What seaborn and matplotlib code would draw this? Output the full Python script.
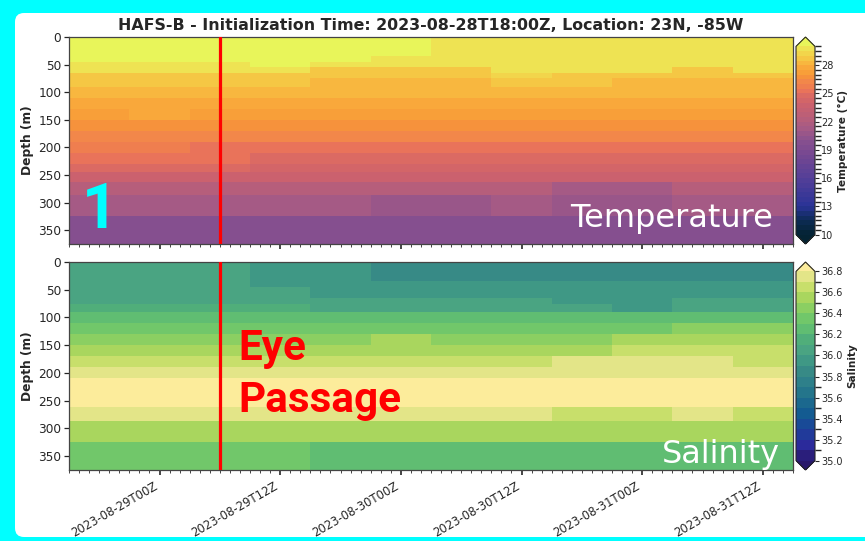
import numpy as np
import pandas as pd
import matplotlib
matplotlib.use("Agg")
import matplotlib.pyplot as plt
import matplotlib.dates as mdates
from matplotlib.colors import LinearSegmentedColormap, ListedColormap, BoundaryNorm
from matplotlib.patches import FancyBboxPatch
from matplotlib.transforms import IdentityTransform
import seaborn as sns

sns.set_theme(style="ticks")
plt.rcParams["font.family"] = ["DejaVu Sans"]

# ---------------------------------------------------------------- data
title = "HAFS-B - Initialization Time: 2023-08-28T18:00Z, Location: 23N, -85W"
valid_times = pd.date_range("2023-08-28 18:00", periods=12, freq="6h")
eye_passage_time = pd.Timestamp("2023-08-29 06:00")

# layer edges of the ocean profile (m)
depth_edges = [0, 35, 45, 55, 65, 75, 90, 110, 130, 150, 170, 190,
               210, 230, 245, 262, 287, 325, 375]

# temperature (deg C): one row per layer, one column per valid time
temperature = [
    [30.2, 30.2, 30.2, 30.2, 30.2, 30.2, 29.7, 29.7, 29.7, 29.7, 29.7, 29.7],
    [30.2, 30.2, 30.2, 30.2, 30.2, 29.7, 29.7, 29.7, 29.7, 29.7, 29.7, 29.7],
    [29.7, 29.7, 29.7, 30.2, 29.7, 29.7, 29.7, 29.7, 29.7, 29.7, 29.7, 29.7],
    [29.7, 29.7, 29.7, 29.7, 28.9, 28.9, 28.9, 29.7, 29.7, 29.7, 28.9, 29.7],
    [28.9, 28.9, 28.9, 28.9, 28.9, 28.9, 28.9, 29.3, 28.9, 28.9, 28.9, 28.9],
    [28.9, 28.9, 28.9, 28.9, 28.3, 28.3, 28.3, 28.9, 28.9, 28.3, 28.3, 28.3],
    [28.3, 28.3, 28.3, 28.3, 28.3, 28.3, 28.3, 28.3, 28.3, 28.3, 28.3, 28.3],
    [27.8, 27.8, 27.8, 27.8, 27.8, 27.8, 27.8, 27.8, 27.8, 27.8, 27.8, 27.8],
    [27.3, 27.8, 27.3, 27.3, 27.3, 27.3, 27.3, 27.3, 27.3, 27.3, 27.3, 27.3],
    [26.8, 26.8, 26.8, 26.8, 26.8, 26.8, 26.8, 26.8, 26.8, 26.8, 26.8, 26.8],
    [26.3, 26.3, 26.3, 26.3, 26.3, 26.3, 26.3, 26.3, 26.3, 26.3, 26.3, 26.3],
    [25.8, 25.8, 25.3, 25.3, 25.3, 25.3, 25.3, 25.3, 25.3, 25.3, 25.3, 25.3],
    [25.3, 25.3, 25.3, 24.8, 24.8, 24.8, 24.8, 24.8, 24.8, 24.8, 24.8, 24.8],
    [24.8, 24.8, 24.8, 24.3, 24.3, 24.3, 24.3, 24.3, 24.3, 24.3, 24.3, 24.3],
    [23.8, 23.8, 23.8, 23.8, 23.8, 23.8, 23.8, 23.8, 23.8, 23.8, 23.8, 23.8],
    [22.3, 22.3, 22.3, 22.3, 22.3, 22.3, 22.3, 22.3, 21.3, 21.3, 22.3, 22.3],
    [21.3, 21.3, 21.3, 21.3, 21.3, 20.8, 20.8, 21.3, 20.8, 20.8, 21.3, 21.3],
    [19.8, 19.8, 19.8, 19.8, 19.8, 19.8, 19.8, 19.8, 19.8, 19.8, 19.8, 19.8],
]

# salinity (psu): one row per layer, one column per valid time
salinity = [
    [36.05, 36.05, 36.05, 35.95, 35.95, 35.85, 35.85, 35.85, 35.85, 35.85, 35.85, 35.85],
    [36.05, 36.05, 36.05, 35.95, 35.95, 35.95, 35.95, 35.95, 35.95, 35.95, 35.95, 35.95],
    [36.05, 36.05, 36.05, 36.05, 35.95, 35.95, 35.95, 35.95, 35.95, 35.95, 35.95, 35.95],
    [36.05, 36.05, 36.05, 36.05, 35.95, 35.95, 35.95, 35.95, 35.95, 35.95, 35.95, 35.95],
    [36.05, 36.05, 36.05, 36.05, 36.05, 36.05, 36.05, 36.05, 35.95, 35.95, 36.05, 36.05],
    [36.15, 36.15, 36.15, 36.15, 36.05, 36.05, 36.05, 36.05, 36.05, 35.95, 36.05, 36.05],
    [36.25, 36.25, 36.25, 36.25, 36.25, 36.25, 36.25, 36.25, 36.25, 36.25, 36.25, 36.25],
    [36.35, 36.35, 36.35, 36.35, 36.35, 36.35, 36.35, 36.35, 36.35, 36.35, 36.45, 36.45],
    [36.45, 36.45, 36.45, 36.45, 36.45, 36.55, 36.45, 36.45, 36.45, 36.55, 36.55, 36.55],
    [36.55, 36.55, 36.55, 36.55, 36.55, 36.55, 36.55, 36.55, 36.55, 36.65, 36.65, 36.65],
    [36.65, 36.65, 36.65, 36.65, 36.65, 36.65, 36.65, 36.65, 36.75, 36.75, 36.75, 36.65],
    [36.75, 36.75, 36.75, 36.75, 36.75, 36.75, 36.75, 36.75, 36.75, 36.75, 36.75, 36.75],
    [36.85, 36.85, 36.85, 36.85, 36.85, 36.85, 36.85, 36.85, 36.85, 36.85, 36.85, 36.85],
    [36.85, 36.85, 36.85, 36.85, 36.85, 36.85, 36.85, 36.85, 36.85, 36.85, 36.85, 36.85],
    [36.85, 36.85, 36.85, 36.85, 36.85, 36.85, 36.85, 36.85, 36.85, 36.85, 36.85, 36.85],
    [36.75, 36.75, 36.75, 36.75, 36.75, 36.75, 36.75, 36.75, 36.65, 36.65, 36.75, 36.65],
    [36.55, 36.55, 36.55, 36.55, 36.55, 36.55, 36.55, 36.55, 36.55, 36.55, 36.55, 36.55],
    [36.35, 36.35, 36.35, 36.35, 36.25, 36.25, 36.25, 36.25, 36.25, 36.25, 36.25, 36.25],
]

temp_levels = np.round(np.arange(10.0, 30.001, 0.5), 2)
salt_levels = np.round(np.arange(35.0, 36.801, 0.1), 2)
temp_ticks = np.arange(10, 29, 3)
salt_ticks = np.round(np.arange(35.0, 36.801, 0.2), 2)

# ---------------------------------------------------------------- colour maps
thermal_anchors = [
    (10.0, "#042333"), (11.5, "#0c2b55"), (13.0, "#2a3397"), (16.0, "#543f98"),
    (19.0, "#7c4a90"), (20.0, "#88518f"), (21.3, "#a55a85"), (22.3, "#b75e7a"),
    (23.8, "#cb616e"), (24.8, "#dc6a62"), (25.3, "#e9735a"), (25.8, "#ef7f4e"),
    (26.3, "#f2874a"), (26.8, "#f6923c"), (27.3, "#f8a039"), (27.8, "#f9a83b"),
    (28.3, "#f8b83f"), (28.9, "#f5c945"), (29.7, "#efe151"), (30.0, "#ece85a"),
]
haline_anchors = [
    (35.0, "#29186b"), (35.15, "#2b2a9c"), (35.3, "#1c4399"), (35.45, "#135b91"),
    (35.6, "#1f6f8c"), (35.75, "#2e808a"), (35.85, "#378a86"), (35.95, "#3f9885"),
    (36.05, "#4aa482"), (36.15, "#50ae7a"), (36.25, "#60bd72"), (36.35, "#71c76a"),
    (36.45, "#8acf62"), (36.55, "#a8d65e"), (36.65, "#c8df6a"), (36.75, "#e3e588"),
    (36.8, "#ebe78e"),
]


def binned_cmap(anchors, levels, under, over):
    lo, hi = float(levels[0]), float(levels[-1])
    pos = np.clip([(v - lo) / (hi - lo) for v, _ in anchors], 0, 1)
    pos[0], pos[-1] = 0.0, 1.0
    smooth = LinearSegmentedColormap.from_list(
        "smooth", list(zip(pos, [c for _, c in anchors])))
    centers = 0.5 * (levels[:-1] + levels[1:])
    colors = sns.color_palette([tuple(c[:3]) for c in smooth((centers - lo) / (hi - lo))])
    cmap = ListedColormap(colors)
    cmap.set_under(under)
    cmap.set_over(over)
    return cmap, BoundaryNorm(levels, cmap.N)


temp_cmap, temp_norm = binned_cmap(thermal_anchors, temp_levels, "#042333", "#e8f55a")
salt_cmap, salt_norm = binned_cmap(haline_anchors, salt_levels, "#29186b", "#fcec9b")

# ---------------------------------------------------------------- grid
half_step = pd.Timedelta(hours=3)
time_edges = list(valid_times - half_step) + [valid_times[-1] + half_step]
x_edges = mdates.date2num(pd.DatetimeIndex(time_edges).to_pydatetime())
y_edges = np.asarray(depth_edges, dtype=float)

# ---------------------------------------------------------------- figure
W, H = 865, 541
fig = plt.figure(figsize=(W / 100, H / 100), dpi=100)
fig.patch.set_facecolor("#00ffff")
fig.patches.append(FancyBboxPatch((15, 4), W + 40, H - 13 - 4,
                                  boxstyle="round,pad=0,rounding_size=9",
                                  transform=IdentityTransform(), figure=fig,
                                  facecolor="white", edgecolor="none", zorder=-10))


def fx(px):
    return px / W


def fy(px_top, px_bottom):
    return (H - px_bottom) / H, (px_bottom - px_top) / H


ax_left, ax_width = fx(69), fx(793 - 69)
cb_left, cb_width = fx(796), fx(19)
b1, h1 = fy(37, 244)
b2, h2 = fy(262, 470)

ax_t = fig.add_axes([ax_left, b1, ax_width, h1])
ax_s = fig.add_axes([ax_left, b2, ax_width, h2], sharex=ax_t)
cax_t = fig.add_axes([cb_left, b1, cb_width, h1])
cax_s = fig.add_axes([cb_left, b2, cb_width, h2])

mesh_t = ax_t.pcolormesh(x_edges, y_edges, np.array(temperature),
                         cmap=temp_cmap, norm=temp_norm, shading="flat")
mesh_s = ax_s.pcolormesh(x_edges, y_edges, np.array(salinity),
                         cmap=salt_cmap, norm=salt_norm, shading="flat")

eye_x = mdates.date2num(eye_passage_time.to_pydatetime())
for ax in (ax_t, ax_s):
    ax.set_ylim(depth_edges[-1], 0)
    ax.set_yticks(np.arange(0, 351, 50))
    ax.set_ylabel("Depth (m)", fontsize=8.8, fontweight="bold", labelpad=3)
    ax.tick_params(axis="y", labelsize=8.7, length=3.5, width=0.9, pad=2)
    ax.axvline(eye_x, color="#ff0000", lw=2.3, zorder=5)
    for s in ax.spines.values():
        s.set_linewidth(0.9)
        s.set_color("#444444")

ax_t.set_xlim(x_edges[0], x_edges[-1])
ax_s.xaxis.set_major_locator(mdates.HourLocator(byhour=[0, 12]))
ax_s.xaxis.set_minor_locator(mdates.HourLocator(interval=1))
ax_s.xaxis.set_major_formatter(mdates.DateFormatter("%Y-%m-%dT%HZ"))
for ax in (ax_t, ax_s):
    ax.tick_params(axis="x", which="major", length=3.5, width=1.2, labelsize=8.4)
    ax.tick_params(axis="x", which="minor", length=2.0, width=0.6)
ax_t.tick_params(axis="x", labelbottom=False)
plt.setp(ax_s.get_xticklabels(), rotation=30, ha="right", rotation_mode="default")

ax_t.set_title(title, fontsize=11.4, fontweight="bold", pad=5)

cb_t = fig.colorbar(mesh_t, cax=cax_t, extend="both", ticks=temp_ticks)
cb_s = fig.colorbar(mesh_s, cax=cax_s, extend="both", ticks=salt_ticks)
cb_s.ax.set_yticklabels([f"{v:.1f}" for v in salt_ticks])
cb_t.set_label("Temperature (\u00b0C)", fontsize=7.6, fontweight="bold", labelpad=3)
cb_s.set_label("Salinity", fontsize=7.6, fontweight="bold", labelpad=3)
for cb in (cb_t, cb_s):
    cb.ax.tick_params(labelsize=7.0, length=3, width=0.8, pad=1.5)
    cb.outline.set_linewidth(0.8)

# annotations
ax_t.text(0.042, 0.077, "1", transform=ax_t.transAxes, ha="center", va="baseline",
          fontsize=45, fontweight="bold", family=["Roboto", "DejaVu Sans"],
          color="#00ffff", zorder=6)
ax_t.text(0.972, 0.082, "Temperature", transform=ax_t.transAxes, ha="right",
          va="baseline", fontsize=23, color="white", zorder=6)
ax_s.text(0.982, 0.032, "Salinity", transform=ax_s.transAxes, ha="right",
          va="baseline", fontsize=23, color="white", zorder=6)
ax_s.text(0.234, 0.529, "Eye", transform=ax_s.transAxes, ha="left", va="baseline",
          fontsize=30.4, fontweight="bold", family=["Roboto", "DejaVu Sans"],
          color="#ff0000", zorder=6)
ax_s.text(0.234, 0.280, "Passage", transform=ax_s.transAxes, ha="left", va="baseline",
          fontsize=30.4, fontweight="bold", family=["Roboto", "DejaVu Sans"],
          color="#ff0000", zorder=6)

fig.savefig("out.png", dpi=100, facecolor=fig.get_facecolor())
